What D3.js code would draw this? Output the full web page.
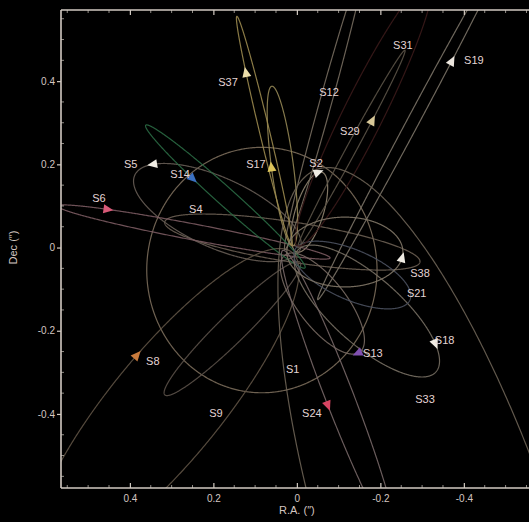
<!DOCTYPE html>
<html>
<head>
<meta charset="utf-8">
<script src="https://cdn.jsdelivr.net/npm/d3@7"></script>
<style>
  html, body { margin: 0; padding: 0; background: #000; }
  svg { display: block; }
  text { font-family: "Liberation Sans", Arial, sans-serif; }
</style>
</head>
<body>
<svg id="chart" width="529" height="522"></svg>
<script>
// Projected S-star orbits around Sgr A* (offsets in arcsec).
// Each orbit is stored as its sky-projected ellipse: centre, semi-axes, position angle.
const stars      = ["S1","S2","S4","S5","S6","S8","S9","S12","S13","S14","S17","S18","S19","S21","S24","S29","S31","S33","S37","S38"];
const centerRA   = [0.0838,-0.0299,0.0108,0.1904,0.2467,0.3138,0.1545,-0.0671,-0.0611,0.1713,0.0347,-0.1677,-0.2802,-0.1329,-0.1006,-0.1305,-0.1605,-0.3622,0.0778,-0.1150];
const centerDec  = [-0.0541,0.0853,0.0132,0.0841,0.0373,-0.3810,-0.1947,0.3425,-0.1346,0.1226,0.1959,-0.1526,0.3065,-0.0661,-0.3546,0.2368,0.3233,-0.7690,0.2800,-0.0108];
const semiMajor  = [0.2950,0.1005,0.3094,0.2173,0.3321,0.4772,0.2272,0.3607,0.1470,0.2564,0.1935,0.2209,0.4892,0.1504,0.3727,0.2698,0.3561,1.0070,0.2835,0.1390];
const semiMinor  = [0.2758,0.0336,0.0480,0.0839,0.0192,0.1319,0.0336,0.0144,0.0576,0.0216,0.0264,0.0815,0.0144,0.0600,0.0336,0.0120,0.0480,0.2758,0.0120,0.0839];
const posAngle   = [-90,107.33,-171.1,-155.55,-169.18,-50.71,-44.57,105.4,-127.7,-138.04,-97.5,-138.5,118.07,-156.5,-111.1,118.4,116.4,-108.05,-103.45,180];
// current orbital phase of each star (deg along the ellipse) and sense of motion; null = no marker
const phase      = [null,-15,null,-150,-130,96,null,null,5,110,90,-38,70,null,88,72,null,null,121,10];
const sense      = [0,1,0,-1,1,1,0,0,1,-1,1,1,-1,0,-1,-1,0,0,1,-1];

// axis ticks
const tickRA   = [0.4, 0.2, 0, -0.2, -0.4];
const tickDec  = [0.4, 0.2, 0, -0.2, -0.4];

// ---- styling / layout ----
const orbitColor = {
  S1:"#7a6c5a", S2:"#908470", S4:"#6a5e52", S5:"#665c54", S6:"#7a5a60", S8:"#5e5244",
  S9:"#5a5048", S12:"#766c5e", S13:"#766860", S14:"#2a6a44", S17:"#948654", S18:"#766e62",
  S19:"#7a7266", S21:"#4a505e", S24:"#766666", S29:"#5a5246", S31:"#3a1a1a", S33:"#6c6254",
  S37:"#9a884e", S38:"#807666"
};
const markerColor = {
  S2:"#f0ece4", S5:"#f0ece4", S6:"#d85a78", S8:"#c87a3c", S13:"#8050b0", S14:"#3a70c0",
  S17:"#dcc45a", S18:"#f0ece4", S19:"#ece6de", S24:"#d84462", S29:"#d8c898", S37:"#ecdeaa",
  S38:"#f0ece4"
};
// label anchor points (arcsec)
const labelAt = {
  S31:[-0.254,0.487], S19:[-0.424,0.451], S37:[0.165,0.398], S12:[-0.077,0.374],
  S29:[-0.127,0.280], S5:[0.398,0.201], S14:[0.280,0.177], S17:[0.098,0.201],
  S2:[-0.046,0.203], S6:[0.474,0.119], S4:[0.242,0.093], S38:[-0.295,-0.061],
  S21:[-0.287,-0.109], S18:[-0.354,-0.222], S13:[-0.182,-0.254], S1:[0.010,-0.292],
  S8:[0.345,-0.273], S33:[-0.307,-0.364], S24:[-0.036,-0.398], S9:[0.194,-0.398]
};

const svg = d3.select("#chart");
const plotLeft = 61, plotTop = 10, plotBottom = 488, plotRight = 539;

const x = d3.scaleLinear().domain([0.565, -0.58]).range([plotLeft, plotRight]);
const y = d3.scaleLinear().domain([-0.578, 0.571]).range([plotBottom, plotTop]);

svg.append("rect").attr("width", 529).attr("height", 522).attr("fill", "#000");

svg.append("defs").append("clipPath").attr("id", "plotClip")
  .append("rect").attr("x", plotLeft).attr("y", plotTop)
  .attr("width", plotRight - plotLeft).attr("height", plotBottom - plotTop);

// point on a projected ellipse at parameter t (radians), in arcsec
function orbitPoint(i, t) {
  const th = posAngle[i] * Math.PI / 180;
  const ca = semiMajor[i] * Math.cos(t), sb = semiMinor[i] * Math.sin(t);
  return [
    centerRA[i]  + ca * Math.cos(th) - sb * Math.sin(th),
    centerDec[i] + ca * Math.sin(th) + sb * Math.cos(th)
  ];
}

const line = d3.line().x(p => x(p[0])).y(p => y(p[1])).curve(d3.curveLinearClosed);

const orbitLayer = svg.append("g").attr("clip-path", "url(#plotClip)");
stars.forEach((s, i) => {
  const pts = d3.range(0, 720).map(k => orbitPoint(i, k / 720 * 2 * Math.PI));
  orbitLayer.append("path")
    .attr("d", line(pts))
    .attr("fill", "none")
    .attr("stroke", orbitColor[s])
    .attr("stroke-width", 1.2)
    .attr("stroke-opacity", 0.9);
});

// direction markers
const markerLayer = svg.append("g").attr("clip-path", "url(#plotClip)");
stars.forEach((s, i) => {
  if (phase[i] === null) return;
  const t = phase[i] * Math.PI / 180;
  const p = orbitPoint(i, t);
  const q = orbitPoint(i, t + sense[i] * 0.01);
  const px = x(p[0]), py = y(p[1]);
  const ang = Math.atan2(y(q[1]) - py, x(q[0]) - px) * 180 / Math.PI;
  markerLayer.append("path")
    .attr("d", "M6,0 L-4,-4.5 L-4,4.5 Z")
    .attr("transform", `translate(${px},${py}) rotate(${ang})`)
    .attr("fill", markerColor[s]);
});

// star names
const labelLayer = svg.append("g");
stars.forEach(s => {
  const a = labelAt[s];
  labelLayer.append("text")
    .attr("x", x(a[0])).attr("y", y(a[1]))
    .attr("text-anchor", "middle")
    .attr("dominant-baseline", "central")
    .attr("font-size", 11)
    .attr("fill", "#e4d4d4")
    .text(s);
});

// frame
const frameColor = "#d2cac2";
svg.append("line").attr("x1", plotLeft).attr("x2", plotLeft).attr("y1", plotTop).attr("y2", plotBottom)
  .attr("stroke", frameColor).attr("stroke-width", 1.6);
svg.append("line").attr("x1", plotLeft).attr("x2", plotRight).attr("y1", plotBottom).attr("y2", plotBottom)
  .attr("stroke", frameColor).attr("stroke-width", 1.6);
svg.append("line").attr("x1", plotLeft).attr("x2", plotRight).attr("y1", plotTop).attr("y2", plotTop)
  .attr("stroke", frameColor).attr("stroke-width", 1.4);

const fmt = v => (v === 0 ? "0" : (v < 0 ? "-" : "") + Math.abs(v).toFixed(1));

// bottom axis
const xAxis = svg.append("g").attr("transform", `translate(0,${plotBottom})`)
  .call(d3.axisBottom(x).tickValues(tickRA).tickFormat(fmt).tickSize(-5).tickPadding(7));
// left axis
const yAxis = svg.append("g").attr("transform", `translate(${plotLeft},0)`)
  .call(d3.axisLeft(y).tickValues(tickDec).tickFormat(fmt).tickSize(4).tickPadding(2));
// top axis ticks
const tAxis = svg.append("g").attr("transform", `translate(0,${plotTop})`)
  .call(d3.axisTop(x).tickValues(tickRA).tickFormat("").tickSize(-5));

[xAxis, yAxis, tAxis].forEach(g => {
  g.select(".domain").remove();
  g.selectAll(".tick line").attr("stroke", frameColor).attr("stroke-width", 1.2);
  g.selectAll("text").attr("fill", "#d4c6c0").attr("font-size", 10)
    .attr("font-family", "Liberation Sans, Arial, sans-serif");
});

// minor ticks every 0.05"
const minor = d3.range(-11, 12).map(k => k * 0.05).filter(v => Math.abs(Math.round(v * 100) % 20) !== 0);
const minorG = svg.append("g").attr("stroke", frameColor).attr("stroke-width", 1).attr("stroke-opacity", 0.7);
minor.forEach(v => {
  const xv = x(v);
  if (xv > plotLeft + 1 && xv < 529) {
    minorG.append("line").attr("x1", xv).attr("x2", xv).attr("y1", plotBottom).attr("y2", plotBottom - 3);
    minorG.append("line").attr("x1", xv).attr("x2", xv).attr("y1", plotTop).attr("y2", plotTop + 3);
  }
  const yv = y(v);
  if (yv > plotTop + 1 && yv < plotBottom - 1) {
    minorG.append("line").attr("x1", plotLeft).attr("x2", plotLeft + 3).attr("y1", yv).attr("y2", yv);
  }
});

// axis titles
svg.append("text")
  .attr("x", x(0)).attr("y", 514)
  .attr("text-anchor", "middle")
  .attr("font-size", 11).attr("fill", "#d4c6c0")
  .text("R.A. (\u2033)");
svg.append("text")
  .attr("transform", `translate(13,${y(0)}) rotate(-90)`)
  .attr("text-anchor", "middle")
  .attr("dominant-baseline", "central")
  .attr("font-size", 11).attr("fill", "#d4c6c0")
  .text("Dec (\u2033)");
</script>
</body>
</html>
